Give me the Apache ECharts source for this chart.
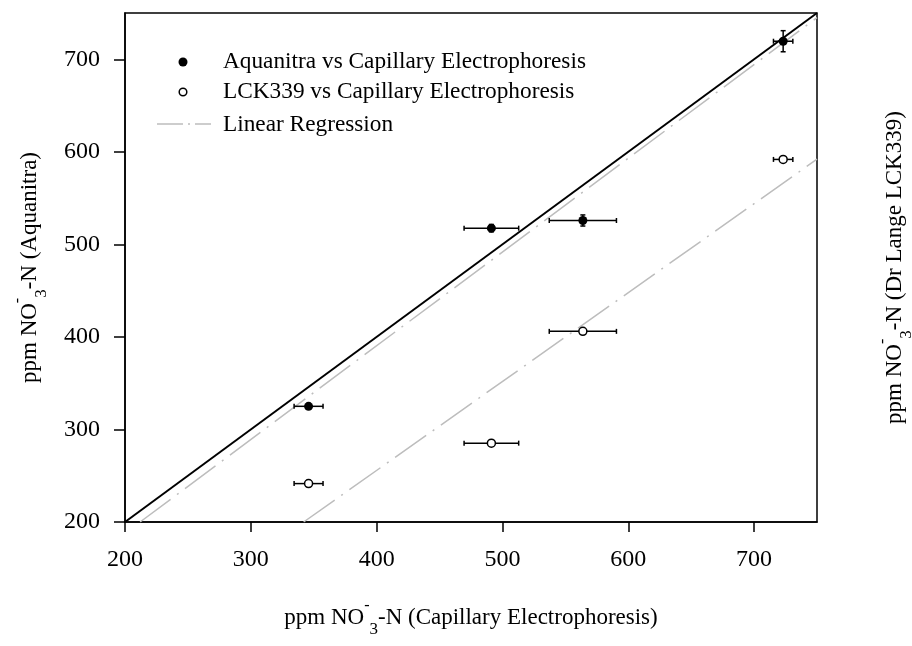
<!DOCTYPE html>
<html>
<head>
<meta charset="utf-8">
<script src="https://cdn.jsdelivr.net/npm/echarts@6/dist/echarts.min.js"></script>
<style>
  html, body { margin: 0; padding: 0; background: #fff; }
  #chart { width: 912px; height: 646px; }
</style>
</head>
<body>
<div id="chart"></div>
<script>
// NO3-N readings, ppm
var ceValues = [345.9, 491.2, 563.9, 723.1];      // capillary electrophoresis (x)
var ceErrors = [11.5, 21.7, 26.7, 7.7];
var aquanitraValues = [325.0, 517.5, 525.8, 719.5];
var aquanitraErrors = [2, 4, 6, 11.4];
var lckValues = [241.5, 285.2, 406.0, 591.8];
var lckErrors = [0, 0, 0, 0];

// regression / reference lines, end points [x, y]
var identityLine = [[200, 200], [750, 750]];
var aquanitraFit = [[212, 200], [750, 745]];
var lckFit = [[342, 200], [750, 592]];

var axisTicks = [200, 300, 400, 500, 600, 700];

var FONT = '"Liberation Serif", "DejaVu Serif", serif';
var GRAY = '#bdbdbd';

function pairs(xs, ys, xe, ye) {
    return xs.map(function (x, i) { return [x, ys[i], xe[i], ye[i]]; });
}

// error bars with small caps
function errorBars(params, api) {
    var x = api.value(0), y = api.value(1), dx = api.value(2), dy = api.value(3);
    var cap = 2.5;
    var style = { stroke: '#000', lineWidth: 1.5 };
    var kids = [];
    if (dx > 0) {
        var l = api.coord([x - dx, y]), r = api.coord([x + dx, y]);
        kids.push({ type: 'line', shape: { x1: l[0], y1: l[1], x2: r[0], y2: r[1] }, style: style });
        kids.push({ type: 'line', shape: { x1: l[0], y1: l[1] - cap, x2: l[0], y2: l[1] + cap }, style: style });
        kids.push({ type: 'line', shape: { x1: r[0], y1: r[1] - cap, x2: r[0], y2: r[1] + cap }, style: style });
    }
    if (dy > 0) {
        var b = api.coord([x, y - dy]), t = api.coord([x, y + dy]);
        kids.push({ type: 'line', shape: { x1: b[0], y1: b[1], x2: t[0], y2: t[1] }, style: style });
        kids.push({ type: 'line', shape: { x1: b[0] - cap, y1: b[1], x2: b[0] + cap, y2: b[1] }, style: style });
        kids.push({ type: 'line', shape: { x1: t[0] - cap, y1: t[1], x2: t[0] + cap, y2: t[1] }, style: style });
    }
    return { type: 'group', children: kids };
}

var nameRich = {
    t: { fontFamily: FONT, fontSize: 23, lineHeight: 40, color: '#000' },
    sup: { fontFamily: FONT, fontSize: 16, lineHeight: 16, verticalAlign: 'top', color: '#000' },
    sub: { fontFamily: FONT, fontSize: 17, lineHeight: 28, verticalAlign: 'bottom', color: '#000' }
};
function no3Name(tail) {
    return '{t|ppm NO}{sup|-}{sub|3}{t|-N (' + tail + ')}';
}

var dash = [38, 8, 2, 8];

var chart = echarts.init(document.getElementById('chart'));
var option = {
    animation: false,
    backgroundColor: '#fff',
    grid: {
        left: 125, right: 95, top: 13, bottom: 124,
        containLabel: false, outerBoundsMode: 'none',
        show: true, borderColor: '#000', borderWidth: 1.5, backgroundColor: 'transparent'
    },
    xAxis: {
        type: 'value', min: 200, max: 750, interval: 100,
        name: no3Name('Capillary Electrophoresis'),
        nameLocation: 'middle', nameGap: 76,
        nameTextStyle: { rich: nameRich },
        axisLine: { show: true, lineStyle: { color: '#000', width: 1.5 } },
        axisTick: { show: true, length: 10, lineStyle: { color: '#000', width: 1.5 } },
        axisLabel: {
            margin: 26, color: '#000', fontFamily: FONT, fontSize: 24,
            showMaxLabel: false,
            formatter: function (v) { return axisTicks.indexOf(v) >= 0 ? String(v) : ''; }
        },
        splitLine: { show: false }
    },
    yAxis: [{
        type: 'value', min: 200, max: 750, interval: 100,
        name: no3Name('Aquanitra'),
        nameLocation: 'middle', nameGap: 75, nameRotate: 90,
        nameTextStyle: { rich: nameRich },
        axisLine: { show: true, lineStyle: { color: '#000', width: 1.5 } },
        axisTick: { show: true, length: 11, lineStyle: { color: '#000', width: 1.5 } },
        axisLabel: {
            margin: 25, color: '#000', fontFamily: FONT, fontSize: 24,
            showMaxLabel: false,
            formatter: function (v) { return axisTicks.indexOf(v) >= 0 ? String(v) : ''; }
        },
        splitLine: { show: false }
    }, {
        type: 'value', min: 200, max: 750, position: 'right',
        name: no3Name('Dr Lange LCK339'),
        nameLocation: 'middle', nameGap: 58, nameRotate: 90,
        nameTextStyle: { rich: nameRich },
        axisLine: { show: false }, axisTick: { show: false },
        axisLabel: { show: false }, splitLine: { show: false }
    }],
    graphic: [
        { type: 'circle', shape: { cx: 183, cy: 62, r: 4.5 }, style: { fill: '#000' } },
        { type: 'circle', shape: { cx: 183, cy: 92, r: 3.8 }, style: { fill: '#fff', stroke: '#000', lineWidth: 1.5 } },
        { type: 'line', shape: { x1: 157, y1: 124, x2: 211, y2: 124 },
          style: { stroke: GRAY, lineWidth: 1.5, lineDash: [26, 5, 2, 5] } },
        { type: 'text', x: 223, y: 62, style: { text: 'Aquanitra vs Capillary Electrophoresis', font: '23.3px ' + FONT, fill: '#000', textVerticalAlign: 'middle' } },
        { type: 'text', x: 223, y: 92, style: { text: 'LCK339 vs Capillary Electrophoresis', font: '23.3px ' + FONT, fill: '#000', textVerticalAlign: 'middle' } },
        { type: 'text', x: 223, y: 125, style: { text: 'Linear Regression', font: '23.3px ' + FONT, fill: '#000', textVerticalAlign: 'middle' } }
    ],
    series: [
        {
            name: 'identity', type: 'line', data: identityLine, symbol: 'none',
            lineStyle: { color: '#000', width: 2 }, z: 2
        },
        {
            name: 'Aquanitra fit', type: 'line', data: aquanitraFit, symbol: 'none',
            lineStyle: { color: GRAY, width: 1.5, type: dash }, z: 1
        },
        {
            name: 'LCK339 fit', type: 'line', data: lckFit, symbol: 'none',
            lineStyle: { color: GRAY, width: 1.5, type: dash }, z: 1
        },
        {
            type: 'custom', renderItem: errorBars, z: 3,
            data: pairs(ceValues, aquanitraValues, ceErrors, aquanitraErrors)
        },
        {
            type: 'custom', renderItem: errorBars, z: 3,
            data: pairs(ceValues, lckValues, ceErrors, lckErrors)
        },
        {
            name: 'Aquanitra vs Capillary Electrophoresis', type: 'scatter', z: 4,
            data: ceValues.map(function (x, i) { return [x, aquanitraValues[i]]; }),
            symbol: 'circle', symbolSize: 9,
            itemStyle: { color: '#000', opacity: 1 }
        },
        {
            name: 'LCK339 vs Capillary Electrophoresis', type: 'scatter', z: 4,
            data: ceValues.map(function (x, i) { return [x, lckValues[i]]; }),
            symbol: 'circle', symbolSize: 8,
            itemStyle: { color: '#fff', borderColor: '#000', borderWidth: 1.5, opacity: 1 }
        }
    ]
};
chart.setOption(option);
</script>
</body>
</html>
